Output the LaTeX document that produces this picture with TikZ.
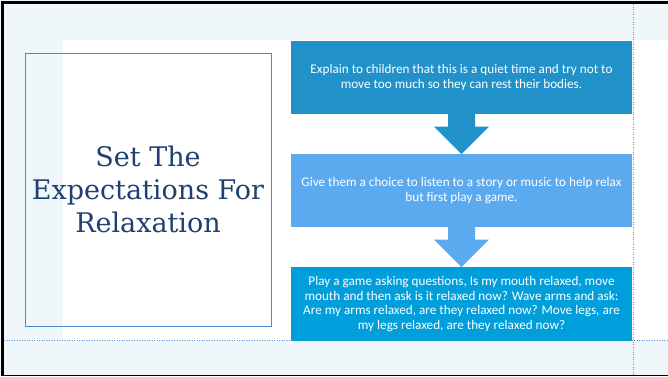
\documentclass[tikz,border=0pt]{standalone}
\usepackage{fontspec}
\setmainfont{Carlito}
\newfontfamily\titlefont{DejaVu Serif}
\usetikzlibrary{calc}
\definecolor{bgtint}{RGB}{239,247,251}
\definecolor{guideblue}{RGB}{91,155,213}
\definecolor{frameblue}{RGB}{74,140,210}
\definecolor{titleink}{RGB}{31,64,112}
\definecolor{stepone}{RGB}{33,145,201}
\definecolor{steptwo}{RGB}{91,170,240}
\definecolor{stepthree}{RGB}{0,158,218}
\tikzset{
  stepbox/.style={minimum width=341pt, minimum height=73pt, outer sep=0pt,
    inner sep=0pt, align=center, text=white,
    font=\fontsize{13.2}{14.4}\selectfont},
  guide/.style={guideblue, line width=0.6pt, dash pattern=on 1pt off 1.5pt},
}
\newcommand{\downarrowshape}[3]{%
  \fill[#1] ($(#2.south)+(-13.5,0)$) -- ($(#2.south)+(13.5,0)$)
    -- ($(#2.south)+(13.5,12.7)$) -- ($(#2.south)+(27.5,12.7)$)
    -- (#3.north) -- ($(#2.south)+(-27.5,12.7)$)
    -- ($(#2.south)+(-13.5,12.7)$) -- cycle;}
\begin{document}
\begin{tikzpicture}[x=1pt,y=-1pt]
\useasboundingbox (0,0) rectangle (668,376);
% slide background and content area
\fill[bgtint] (0,0) rectangle (668,376);
\fill[white] (63,40) rectangle (668,340);
% layout guides
\draw[guide] (4,340.5) -- (668,340.5);
\draw[guide] (633,4) -- (633,376);
% outer frame
\draw[black, line width=2.5pt] (2.5,376) -- (2.5,2.5) -- (668,2.5);
\draw[black, line width=1.5pt] (2.5,375.5) -- (668,375.5);
% title panel
\node[draw=frameblue, line width=0.8pt, minimum width=246pt, minimum height=273pt,
  outer sep=0pt] (panel) at (148,189.5) {};
\node[text=titleink, align=center, font=\titlefont\fontsize{27}{32.7}\selectfont]
  (title) at (panel.center) {Set The\\Expectations For\\Relaxation};
% process steps
\node[stepbox, fill=stepone] (s1) at (461.5,77.5)
  {Explain to children that this is a quiet time and try not to\\
   move too much so they can rest their bodies.};
\node[stepbox, fill=steptwo] (s2) at (461.5,190.5)
  {Give them a choice to listen to a story or music to help relax\\
   but first play a game.};
\node[stepbox, fill=stepthree, minimum height=74pt] (s3) at (461.5,304)
  {Play a game asking questions, Is my mouth relaxed, move\\
   mouth and then ask is it relaxed now? Wave arms and ask:\\
   Are my arms relaxed, are they relaxed now? Move legs, are\\
   my legs relaxed, are they relaxed now?};
% block arrows between steps
\downarrowshape{stepone}{s1}{s2}
\downarrowshape{steptwo}{s2}{s3}
\end{tikzpicture}
\end{document}
